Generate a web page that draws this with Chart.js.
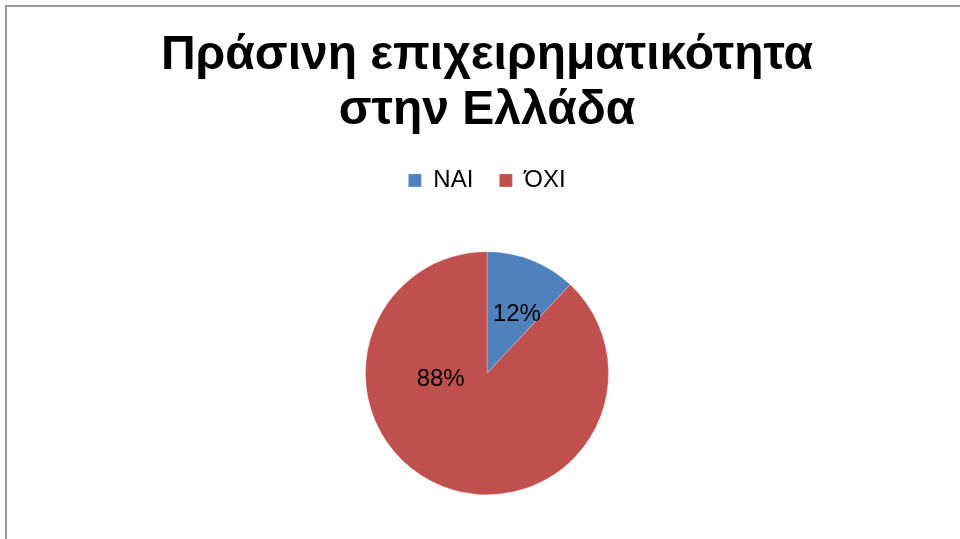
<!DOCTYPE html>
<html>
<head>
<meta charset="utf-8">
<script src="https://cdn.jsdelivr.net/npm/chart.js@4/dist/chart.umd.min.js"></script>
<style>
  body { margin: 0; background: #fff; }
  #wrap { position: relative; width: 960px; height: 539px; overflow: hidden; }
  #frame { position: absolute; left: 5px; top: 5px; width: 1000px; height: 600px;
           border-left: 2px solid #9a9a9a; border-top: 2px solid #9a9a9a; }
  canvas { position: absolute; left: 0; top: 0; }
</style>
</head>
<body>
<div id="wrap">
  <div id="frame"></div>
  <canvas id="myChart" width="960" height="539"></canvas>
</div>
<script>
(() => {
    "use strict";

    const titleLines = ["Πράσινη επιχειρηματικότητα", "στην Ελλάδα"];
    const categories = ["ΝΑΙ", "ΌΧΙ"];
    const values = [12, 88];
    const sliceColors = ["#4F81BD", "#C0504D"];

    // where each percentage label sits: angle from 12 o'clock (deg) and fraction of radius
    const labelSpots = [
        { angle: 27, dist: 0.54 },
        { angle: -98, dist: 0.385 },
    ];

    const pieLabels = {
        id: "pieLabels",
        afterDatasetsDraw(chart) {
            const c = chart.ctx;
            const total = values.reduce((a, b) => a + b, 0);
            const meta = chart.getDatasetMeta(0);
            c.save();
            c.font = "24px 'Liberation Sans', Arial, sans-serif";
            c.fillStyle = "#000";
            c.textAlign = "center";
            c.textBaseline = "middle";
            meta.data.forEach((arc, i) => {
                const spot = labelSpots[i];
                const a = (spot.angle * Math.PI) / 180;
                const x = arc.x + Math.sin(a) * arc.outerRadius * spot.dist;
                const y = arc.y - Math.cos(a) * arc.outerRadius * spot.dist;
                c.fillText(Math.round((values[i] / total) * 100) + "%", x, y);
            });
            c.restore();
        },
    };

    // extra gap under the legend
    const legendGap = {
        id: "legendGap",
        beforeInit(chart) {
            const fit = chart.legend.fit;
            chart.legend.fit = function () {
                fit.bind(chart.legend)();
                this.height += 49;
            };
        },
    };

    const ctx = document.getElementById("myChart");
    new Chart(ctx, {
        type: "pie",
        data: {
            labels: categories,
            datasets: [
                {
                    data: values,
                    backgroundColor: sliceColors,
                    borderColor: "rgba(255,255,255,0.5)",
                    borderWidth: 0.5,
                },
            ],
        },
        options: {
            responsive: false,
            animation: false,
            layout: {
                padding: { left: 14, right: 0, top: 28, bottom: 44 },
            },
            plugins: {
                title: {
                    display: true,
                    text: titleLines,
                    color: "#000",
                    font: { family: "'Liberation Sans', Arial, sans-serif", size: 48, weight: "bold", lineHeight: 1.15 },
                    padding: { top: 0, bottom: 4 },
                },
                legend: {
                    display: true,
                    position: "top",
                    labels: {
                        color: "#000",
                        boxWidth: 13,
                        boxHeight: 13,
                        padding: 26,
                        font: { family: "'Liberation Sans', Arial, sans-serif", size: 24 },
                    },
                },
                tooltip: { enabled: false },
            },
        },
        plugins: [pieLabels, legendGap],
    });
})();
</script>
</body>
</html>
